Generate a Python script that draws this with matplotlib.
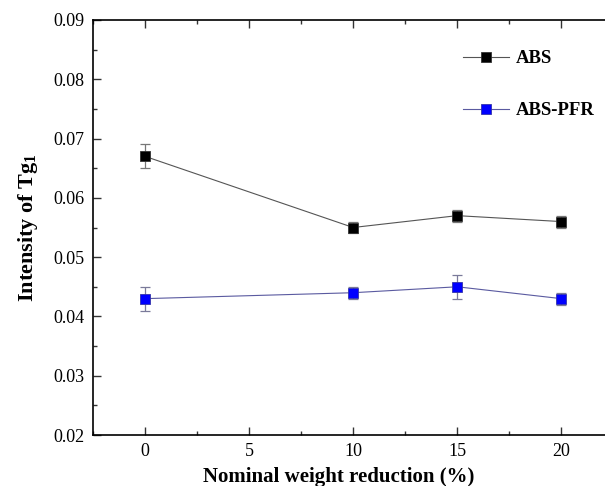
import matplotlib
matplotlib.use('Agg')
import matplotlib.pyplot as plt
from matplotlib.ticker import MultipleLocator, FormatStrFormatter

# Data
reduction = [0, 10, 15, 20]
abs_vals = [0.067, 0.055, 0.057, 0.056]
abs_err = [0.002, 0.001, 0.001, 0.001]
pfr_vals = [0.043, 0.044, 0.045, 0.043]
pfr_err = [0.002, 0.001, 0.002, 0.001]
x_ticks = [0, 5, 10, 15, 20]

plt.rcParams['font.family'] = ['Liberation Serif', 'DejaVu Serif']
plt.rcParams['mathtext.fontset'] = 'custom'
plt.rcParams['mathtext.rm'] = 'Liberation Serif:bold'
plt.rcParams['mathtext.bf'] = 'Liberation Serif:bold'

fig = plt.figure(figsize=(6.05, 4.86), dpi=100)
ax = fig.add_axes([93 / 605, 51 / 486, 1 - 93 / 605, 415 / 486])

# error bars first, then lines + markers on top
ax.errorbar(reduction, abs_vals, yerr=abs_err, fmt='none',
            ecolor='#777777', elinewidth=0.9, capsize=3.5, capthick=0.9)
ax.errorbar(reduction, pfr_vals, yerr=pfr_err, fmt='none',
            ecolor='#7a7a9a', elinewidth=0.9, capsize=3.5, capthick=0.9)
ax.plot(reduction, abs_vals, color='#555555', lw=0.8, marker='s', ms=6.5,
        mfc='black', mec='#333333', mew=0.6, label='ABS')
ax.plot(reduction, pfr_vals, color='#5a5aa0', lw=0.8, marker='s', ms=6.5,
        mfc='#0000ff', mec='#3333aa', mew=0.6, label='ABS-PFR')

ax.set_xlim(-2.5, 22.1)
ax.set_ylim(0.02, 0.09)
ax.set_xticks(x_ticks)
ax.xaxis.set_minor_locator(MultipleLocator(2.5))
ax.yaxis.set_major_locator(MultipleLocator(0.01))
ax.yaxis.set_minor_locator(MultipleLocator(0.005))
ax.yaxis.set_major_formatter(FormatStrFormatter('%.2f'))

ax.tick_params(which='both', direction='in', top=True, right=False,
               labelsize=13, width=1.0, color='#333333')
ax.tick_params(which='major', length=6, pad=6)
ax.tick_params(which='minor', length=3)
ax.spines['right'].set_visible(False)
for s in ['left', 'bottom', 'top']:
    ax.spines[s].set_linewidth(1.2)

ax.set_xlabel('Nominal weight reduction (%)', fontsize=15, fontweight='bold')
ax.xaxis.set_label_coords(0.48, -0.078)
ax.set_ylabel('Intensity of Tg$_\\mathbf{1}$', fontsize=16, fontweight='bold',
              labelpad=10)

ax.legend(loc='upper right', bbox_to_anchor=(1.012, 0.968), frameon=False,
          prop={'weight': 'bold', 'size': 13.5}, labelspacing=1.85,
          handlelength=2.45, handletextpad=0.35)

fig.savefig('out.png', dpi=100)
